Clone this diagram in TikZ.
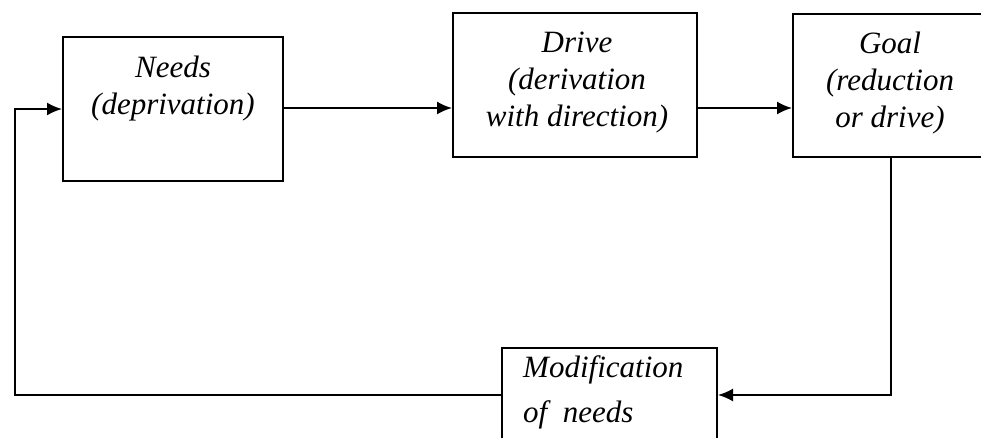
\documentclass[tikz,border=0pt]{standalone}
\usepackage{fontspec}
\setmainfont{Liberation Serif}
\usetikzlibrary{arrows.meta}
\begin{document}
\begin{tikzpicture}[x=1pt,y=-1pt,
  box/.style={draw=black, line width=2pt, inner sep=0pt},
  txt/.style={font=\fontsize{31}{37}\selectfont\itshape, align=center, inner sep=0pt, text=black},
  link/.style={draw=black, line width=1.9pt},
  arr/.style={link, -{Latex[length=15pt,width=13pt]}}]
  \useasboundingbox (0,0) rectangle (981,438);
  \clip (0,0) rectangle (981,438);
  \fill[white] (0,0) rectangle (981,438);

  % blocks
  \node[box, minimum width=220pt, minimum height=144pt] (needs) at (173,109) {};
  \node[box, minimum width=244pt, minimum height=144pt] (drive) at (575,85) {};
  \node[box, minimum width=196pt, minimum height=143pt] (goal) at (891,85.5) {};
  \node[box, minimum width=215pt, minimum height=94pt] (mod) at (609.5,395) {};

  % labels
  \node[txt, anchor=north] (needsT) at (173,56) {Needs\\(deprivation)};
  \node[txt, anchor=north] (driveT) at (577,32) {Drive\\(derivation\\with direction)};
  \node[txt, anchor=north] (goalT) at (890,32) {Goal\\(reduction\\or drive)};
  \node[txt, anchor=north west, align=left, font=\fontsize{31}{45}\selectfont\itshape] (modT) at (523,355) {Modification\\of\ \ needs};

  % flow
  \draw[arr] (needs.east |- 0,108) -- (drive.west |- 0,108);
  \draw[arr] (drive.east |- 0,108) -- (goal.west |- 0,108);
  \coordinate (turnR) at (goal.south |- mod.east);
  \draw[arr] (goal.south) -- (turnR) -- (mod.east);
  \coordinate (turnLB) at (15,395);
  \coordinate (turnLT) at (15,109);
  \draw[arr] (mod.west) -- (turnLB) -- (turnLT) -- (needs.west);
\end{tikzpicture}
\end{document}
